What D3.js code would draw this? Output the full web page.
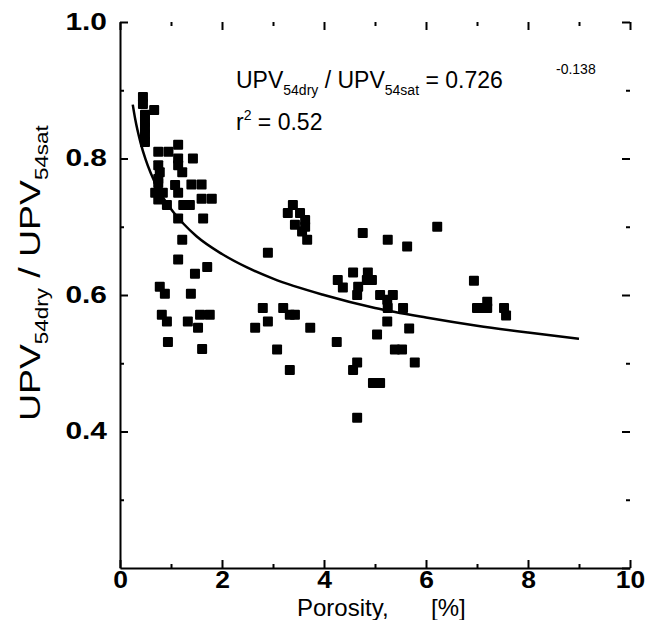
<!DOCTYPE html>
<html>
<head>
<title>UPV ratio vs porosity</title>
<script src="https://d3js.org/d3.v7.min.js"></script>
<style>
body { margin: 0; background: #fff; }
text { font-family: "Liberation Sans", Arial, sans-serif; fill: #000; }
.tick text { font-weight: bold; font-size: 23px; }
</style>
</head>
<body>
<svg class="chart"></svg>
<script>
// measured points: porosity [%] and UPV54dry / UPV54sat
var porosity = [0.45, 0.45, 0.67, 0.49, 0.49, 0.49, 0.49, 0.49, 0.75, 0.95, 1.14, 1.14, 1.43, 0.75,
    0.78, 1.14, 1.22, 0.75, 1.4, 1.6, 0.75, 1.08, 0.69, 0.84, 1.14, 1.6, 1.8, 0.75, 0.92, 1.24,
    1.37, 1.14, 1.63, 1.22, 1.14, 1.71, 1.47, 0.78, 0.88, 1.39, 0.82, 0.92, 1.33, 1.57, 1.76,
    1.53, 0.94, 1.61,
    3.39, 3.29, 3.53, 3.63, 3.43, 3.63, 3.57, 3.67, 4.76, 5.25, 5.63, 6.22, 2.90, 4.27, 4.57,
    4.86, 4.84, 4.94, 4.37, 4.67, 4.65, 5.10, 5.35, 5.24, 5.25, 5.55, 2.80, 3.20, 3.33, 3.43,
    2.90, 2.65, 3.73, 5.24, 5.67, 5.04, 3.08, 4.25, 5.39, 5.53, 3.33, 4.65, 4.57, 4.96, 5.10,
    4.65, 5.78, 6.94, 7.00, 7.10, 7.20, 7.20, 7.53, 7.57];
var ratio = [0.890, 0.880, 0.871, 0.864, 0.854, 0.845, 0.835, 0.824, 0.810, 0.810, 0.820, 0.800, 0.800, 0.790,
    0.780, 0.790, 0.780, 0.770, 0.762, 0.762, 0.764, 0.761, 0.750, 0.750, 0.750, 0.741, 0.741, 0.740, 0.732, 0.732,
    0.732, 0.712, 0.712, 0.681, 0.652, 0.641, 0.631, 0.612, 0.602, 0.602, 0.571, 0.561, 0.561, 0.571, 0.571,
    0.552, 0.531, 0.521,
    0.732, 0.720, 0.720, 0.710, 0.703, 0.700, 0.693, 0.681, 0.691, 0.681, 0.671, 0.700, 0.662, 0.622, 0.633,
    0.633, 0.622, 0.622, 0.611, 0.612, 0.600, 0.600, 0.600, 0.593, 0.581, 0.581, 0.581, 0.581, 0.571, 0.571,
    0.561, 0.552, 0.552, 0.561, 0.551, 0.542, 0.520, 0.531, 0.520, 0.520, 0.490, 0.501, 0.490, 0.471, 0.471,
    0.420, 0.501, 0.621, 0.581, 0.581, 0.581, 0.590, 0.581, 0.570];

// fitted curve
var fitX = [0.25, 0.3, 0.4, 0.5, 0.6, 0.75, 1, 1.25, 1.5, 2, 2.5, 3, 4, 5, 6, 7, 8, 9];
var fitY = [0.879, 0.857, 0.824, 0.799, 0.779, 0.755, 0.726, 0.704, 0.686, 0.660, 0.640, 0.624,
    0.600, 0.581, 0.567, 0.555, 0.545, 0.536];

var xTicks = [0, 2, 4, 6, 8, 10];
var yTicks = [0.4, 0.6, 0.8, 1.0];

var svgWidth = 649, svgHeight = 620;
var plotLeft = 120, plotRight = 630, plotTop = 22, plotBottom = 568;

var xScale = d3.scaleLinear().domain([0, 10]).range([plotLeft, plotRight]);
var yScale = d3.scaleLinear().domain([0.2, 1.0]).range([plotBottom, plotTop]);

var svg = d3.select(".chart")
    .attr("width", svgWidth)
    .attr("height", svgHeight);

// minor ticks
var minorX = [1, 3, 5, 7, 9], minorY = [0.3, 0.5, 0.7, 0.9];

function styleAxis(g, showDomain) {
    g.selectAll("line").attr("stroke", "#000").attr("stroke-width", 2);
    if (showDomain) g.select(".domain").attr("stroke", "#000").attr("stroke-width", 2);
    else g.select(".domain").remove();
}

// the original labels are wider than Liberation Sans, stretch them a bit
function stretch(sel, k) {
    sel.each(function() {
        var w = this.getComputedTextLength();
        d3.select(this).attr("textLength", w * k).attr("lengthAdjust", "spacingAndGlyphs");
    });
}

svg.append("g").attr("transform", "translate(0," + plotBottom + ")")
    .call(d3.axisBottom(xScale).tickValues(minorX).tickSize(-4).tickFormat(""))
    .call(g => styleAxis(g, false));
svg.append("g").attr("transform", "translate(" + plotLeft + ",0)")
    .call(d3.axisLeft(yScale).tickValues(minorY).tickSize(-4).tickFormat(""))
    .call(g => styleAxis(g, false));
svg.append("g").attr("transform", "translate(" + plotRight + ",0)")
    .call(d3.axisRight(yScale).tickValues(minorY).tickSize(-4).tickFormat(""))
    .call(g => styleAxis(g, false));
svg.append("g").attr("transform", "translate(0," + plotTop + ")")
    .call(d3.axisTop(xScale).tickValues(minorX).tickSize(-4).tickFormat(""))
    .call(g => styleAxis(g, false));

// major ticks, right/top without line
svg.append("g").attr("transform", "translate(" + plotRight + ",0)")
    .call(d3.axisRight(yScale).tickValues([0.2, 0.4, 0.6, 0.8, 1.0]).tickSize(-8).tickFormat(""))
    .call(g => styleAxis(g, false));
svg.append("g").attr("transform", "translate(0," + plotTop + ")")
    .call(d3.axisTop(xScale).tickValues(xTicks).tickSize(-8).tickFormat(""))
    .call(g => styleAxis(g, false));

var xAxis = svg.append("g").attr("transform", "translate(0," + plotBottom + ")")
    .call(d3.axisBottom(xScale).tickValues(xTicks).tickSizeInner(-8).tickSizeOuter(0).tickPadding(4).tickFormat(d3.format("d")))
    .call(g => styleAxis(g, true));
stretch(xAxis.selectAll(".tick text"), 1.15);

var yAxis = svg.append("g").attr("transform", "translate(" + plotLeft + ",0)")
    .call(d3.axisLeft(yScale).tickValues(yTicks).tickSizeInner(-8).tickSizeOuter(0).tickFormat(d3.format(".1f")))
    .call(g => styleAxis(g, true));
yAxis.selectAll(".tick text").attr("x", -13);
stretch(yAxis.selectAll(".tick text"), 1.3);

// fit curve
var line = d3.line()
    .x(function(d, i) { return xScale(fitX[i]); })
    .y(function(d) { return yScale(d); })
    .curve(d3.curveMonotoneX);
svg.append("path")
    .datum(fitY)
    .attr("d", line)
    .attr("fill", "none")
    .attr("stroke", "#000")
    .attr("stroke-width", 2.5);

// data points
var sz = 10;
svg.selectAll(".dot")
    .data(porosity).enter().append("rect")
        .attr("class", "dot")
        .attr("x", d => xScale(d) - sz / 2)
        .attr("y", (d, i) => yScale(ratio[i]) - sz / 2)
        .attr("width", sz)
        .attr("height", sz)
        .attr("rx", 1)
        .attr("fill", "#000");

// axis titles
svg.append("text").attr("x", 297).attr("y", 616).style("font-size", "24px").text("Porosity,");
svg.append("text").attr("x", 431).attr("y", 616).style("font-size", "24px").text("[%]");

var yt = svg.append("text").style("font-size", "30px");
yt.append("tspan").text("UPV");
yt.append("tspan").attr("dy", 8).style("font-size", "18px").text("54dry");
yt.append("tspan").attr("dy", -8).text(" / UPV");
yt.append("tspan").attr("dy", 8).style("font-size", "18px").text("54sat");
var ytLen = yt.node().getComputedTextLength();
yt.attr("transform", "translate(40,421) rotate(-90) scale(" + (296 / ytLen) + ",1)");

// equation annotation
var eq = svg.append("text").attr("x", 236).attr("y", 88).style("font-size", "23px");
eq.append("tspan").text("UPV");
eq.append("tspan").attr("dy", 7).style("font-size", "14px").text("54dry");
eq.append("tspan").attr("dy", -7).text(" / UPV");
eq.append("tspan").attr("dy", 7).style("font-size", "14px").text("54sat");
eq.append("tspan").attr("dy", -7).text(" = 0.726");
svg.append("text").attr("x", 556).attr("y", 74).style("font-size", "14px").text("-0.138");

var r2 = svg.append("text").attr("x", 236).attr("y", 130).style("font-size", "23px");
r2.append("tspan").text("r");
r2.append("tspan").attr("dy", -10).style("font-size", "14px").text("2");
r2.append("tspan").attr("dy", 10).text(" = 0.52");
</script>
</body>
</html>
